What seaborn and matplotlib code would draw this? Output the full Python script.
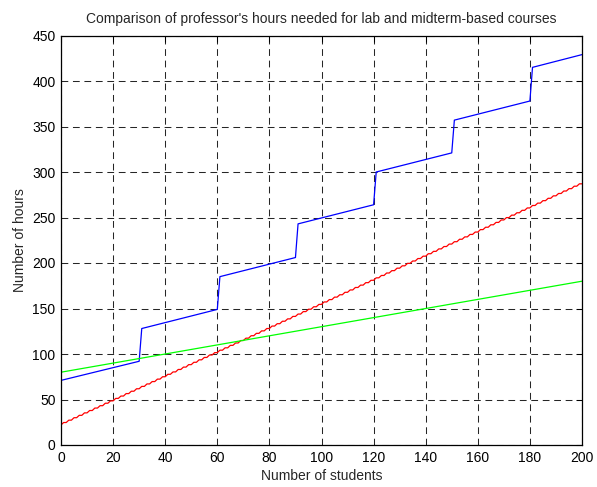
import numpy as np
import pandas as pd
import seaborn as sns
import matplotlib
matplotlib.use("Agg")
import matplotlib.pyplot as plt

# blue course: hours read at the start/end of each 30-student block
blue_students = [0, 30, 31, 60, 61, 90, 91, 120, 121, 150, 151, 180, 181, 200]
blue_hours = [71, 92, 128, 149, 185, 206, 243, 264, 300, 321, 357, 378, 415, 429]

# green course: straight line
green_students = [0, 100, 200]
green_hours = [80, 130, 180]

# red course: one value per pair of students (small stair steps)
red_steps = [22.0, 24.7, 27.3, 30.0, 32.6, 35.3, 37.9, 40.6, 43.2, 45.9,
             48.5, 51.2, 53.8, 56.5, 59.1, 61.8, 64.4, 67.1, 69.7, 72.4,
             75.0, 77.7, 80.3, 83.0, 85.6, 88.3, 90.9, 93.6, 96.2, 98.9,
             101.5, 104.2, 106.8, 109.5, 112.1, 114.8, 117.4, 120.1, 122.7, 125.4,
             128.0, 130.7, 133.3, 136.0, 138.6, 141.3, 143.9, 146.6, 149.2, 151.9,
             154.5, 157.2, 159.8, 162.5, 165.1, 167.8, 170.4, 173.1, 175.7, 178.4,
             181.0, 183.7, 186.3, 189.0, 191.6, 194.3, 196.9, 199.6, 202.2, 204.9,
             207.5, 210.2, 212.8, 215.5, 218.1, 220.8, 223.4, 226.1, 228.7, 231.4,
             234.0, 236.7, 239.3, 242.0, 244.6, 247.3, 249.9, 252.6, 255.2, 257.9,
             260.5, 263.2, 265.8, 268.5, 271.1, 273.8, 276.4, 279.1, 281.7, 284.4,
             287.0]

x_ticks = list(range(0, 201, 20))
y_ticks = list(range(0, 451, 50))

sns.set_style("white")
plt.rcParams['font.family'] = ['Liberation Sans', 'DejaVu Sans']

red_students = np.arange(0, 201)
red_hours = np.array(red_steps)[(red_students + 1) // 2]

blue_df = pd.DataFrame({'students': blue_students, 'hours': blue_hours})
green_df = pd.DataFrame({'students': green_students, 'hours': green_hours})
red_df = pd.DataFrame({'students': red_students, 'hours': red_hours})

fig = plt.figure(figsize=(5.97, 4.87), dpi=100)
ax = fig.add_axes([61 / 597, 42 / 487, 521 / 597, 409.5 / 487])

sns.lineplot(data=blue_df, x='students', y='hours', color=(0, 0, 1), linewidth=0.9, ax=ax)
sns.lineplot(data=red_df, x='students', y='hours', color=(1, 0, 0), linewidth=0.9, ax=ax)
sns.lineplot(data=green_df, x='students', y='hours', color=(0, 1, 0), linewidth=0.9, ax=ax)

ax.set_xlim(0, 200)
ax.set_ylim(0, 450)
ax.set_xticks(x_ticks)
ax.set_yticks(y_ticks)
ax.grid(True, color='black', linestyle=(0, (6.5, 4.5)), linewidth=0.75, alpha=0.85)
ax.tick_params(direction='in', top=True, right=True, length=4, width=0.75,
               labelsize=10, colors='black', pad=4)
for s in ax.spines.values():
    s.set_visible(True)
    s.set_color('black')
    s.set_linewidth(0.9)

ax.set_title("Comparison of professor's hours needed for lab and midterm-based courses",
             fontsize=10, pad=9)
ax.set_xlabel("Number of students", fontsize=10, labelpad=3)
ax.set_ylabel("Number of hours", fontsize=10, labelpad=4)

fig.savefig("out.png", dpi=100)
